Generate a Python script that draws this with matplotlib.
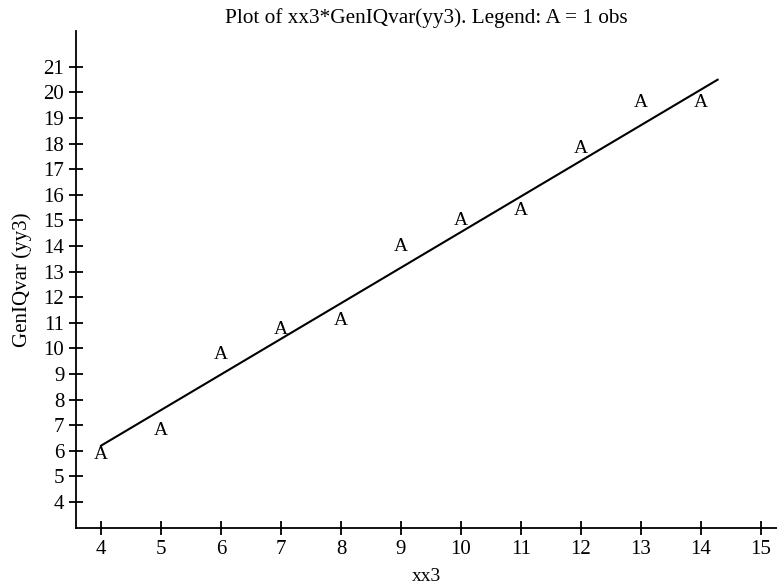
import matplotlib
matplotlib.use('Agg')
import matplotlib.pyplot as plt
plt.rcParams.update({'font.family': 'Liberation Serif', 'font.size': 14})

# observed points (plotted with letter A)
xx3 = [4, 5, 6, 7, 8, 9, 10, 11, 12, 13, 14]
yy3 = [5.85, 6.8, 9.75, 10.75, 11.1, 14.0, 15.0, 15.4, 17.8, 19.6, 19.6]

# fitted line
line_x = [4, 14.28]
line_y = [6.2, 20.5]

xticks = list(range(4, 16))
yticks = list(range(4, 22))

fig = plt.figure(figsize=(7.77, 5.86), dpi=100)
ax = fig.add_axes([0.098, 0.099, 0.902, 0.848])

ax.plot(line_x, line_y, '-k', lw=1.5)
for x, y in zip(xx3, yy3):
    ax.text(x, y, 'A', ha='center', va='center', fontsize=14)

ax.set_xlim(3.583, 15.27)
ax.set_ylim(2.98, 22.4)
ax.set_xticks(xticks)
ax.set_yticks(yticks)
ax.tick_params(direction='inout', length=10, width=1.3, labelsize=15)
for s in ['top', 'right']:
    ax.spines[s].set_visible(False)
for s in ['left', 'bottom']:
    ax.spines[s].set_linewidth(1.3)

ax.set_xlabel('xx3', labelpad=6.5, fontsize=14)
ax.set_ylabel('GenIQvar (yy3)', labelpad=8, fontsize=15)
ax.set_title('Plot of xx3*GenIQvar(yy3). Legend: A = 1 obs', pad=6, fontsize=15.3)

plt.savefig('out.png')
